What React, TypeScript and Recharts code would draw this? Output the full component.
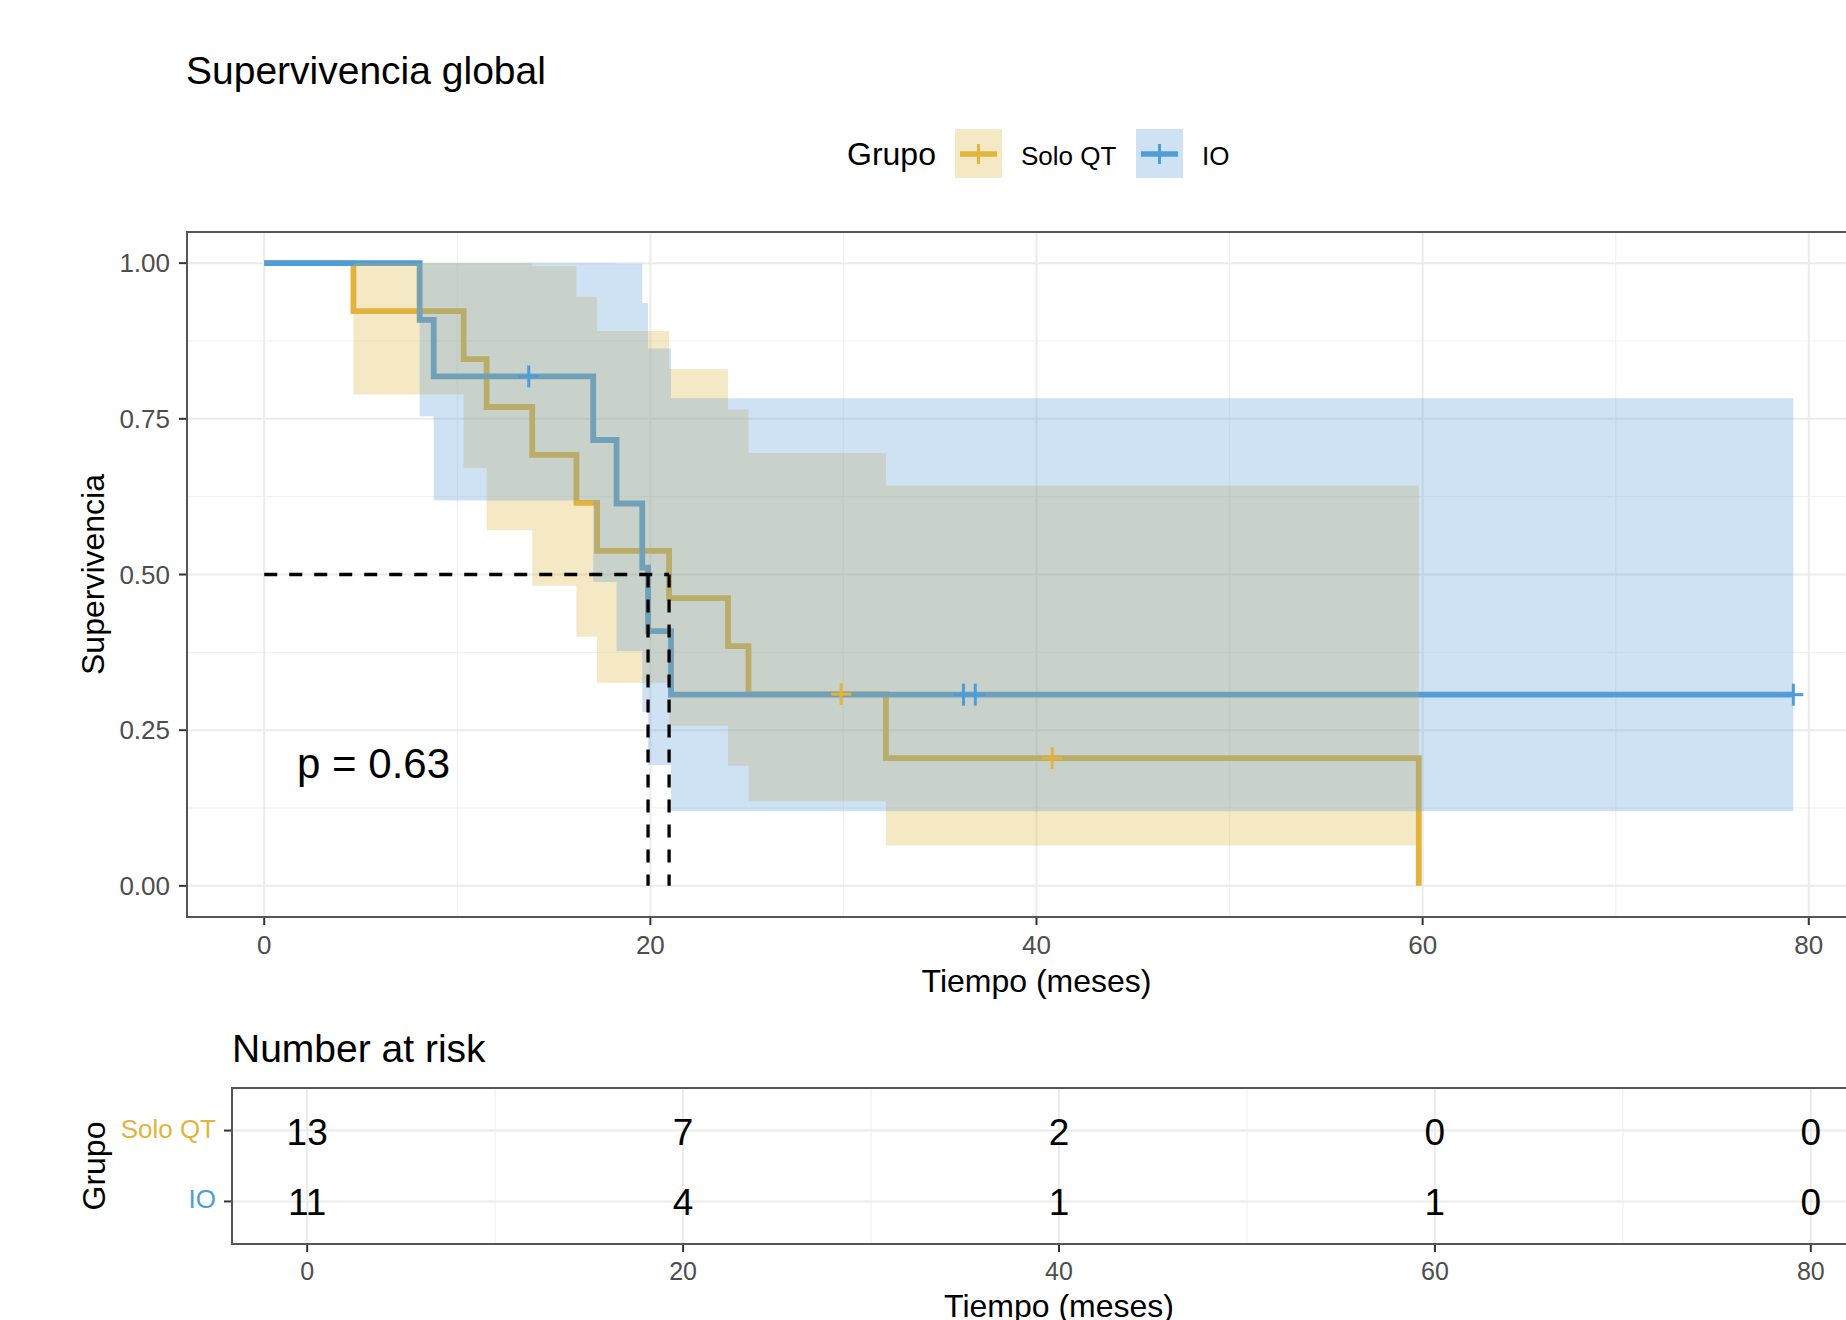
import React from 'react';
import {
  ComposedChart,
  Line,
  Area,
  Scatter,
  XAxis,
  YAxis,
  CartesianGrid,
  ReferenceLine,
  ReferenceArea,
  ReferenceDot,
} from 'recharts';

// Kaplan-Meier steps (time in months, survival)
const soloTimes = [0, 4.62, 10.33, 11.52, 13.88, 16.17, 17.24, 20.97, 24.02, 25.08, 32.2, 59.8];
const soloSurv = [1, 0.923, 0.846, 0.769, 0.692, 0.615, 0.538, 0.462, 0.385, 0.308, 0.205, 0];
const soloLower = [1, 0.789, 0.671, 0.571, 0.482, 0.4, 0.326, 0.257, 0.193, 0.136, 0.065, 0.065];
const soloUpper = [1, 1, 1, 1, 0.995, 0.946, 0.891, 0.83, 0.765, 0.695, 0.643, 0.643];

const ioTimes = [0, 8.05, 8.78, 17.04, 18.25, 19.58, 19.88, 21.07, 79.2];
const ioSurv = [1, 0.909, 0.818, 0.716, 0.614, 0.511, 0.409, 0.307, 0.307];
const ioLower = [1, 0.754, 0.619, 0.488, 0.377, 0.279, 0.194, 0.12, 0.12];
const ioUpper = [1, 1, 1, 1, 0.999, 0.936, 0.863, 0.783, 0.783];

// censored observations
const soloCensorTimes = [29.88, 40.81];
const soloCensorSurv = [0.308, 0.205];
const ioCensorTimes = [13.7, 36.22, 36.83, 79.2];
const ioCensorSurv = [0.818, 0.307, 0.307, 0.307];

// median survival
const ioMedian = 19.88;
const soloMedian = 20.97;

const pValue = 'p = 0.63';

// number at risk table
const riskTimes = [0, 20, 40, 60, 80];
const soloRisk = [13, 7, 2, 0, 0];
const ioRisk = [11, 4, 1, 1, 0];
const groupNames = ['IO', 'Solo QT'];

const timeTicks = [0, 20, 40, 60, 80];
const timeMinorTicks = [10, 30, 50, 70];
const survTicks = [0, 0.25, 0.5, 0.75, 1];
const survMinorTicks = [0.125, 0.375, 0.625, 0.875];

const FONT = '"Liberation Sans", Arial, Helvetica, sans-serif';
const GOLD = '#E2B43B';
const GOLD_FILL = '#DEB23E';
const BLUE = '#4E9CDA';
const BLUE_FILL = '#5F9ED7';
const AXIS_TEXT = '#4D4D4D';
const GRID = '#EBEBEB';
const GRID_MINOR = '#F2F2F2';
const BORDER = '#555555';

const soloLine = soloTimes.map((t, i) => ({ t, s: soloSurv[i] }));
const ioLine = ioTimes.map((t, i) => ({ t, s: ioSurv[i] }));
const soloBand = soloTimes.map((t, i) => ({ t, band: [soloLower[i], soloUpper[i]] }));
const ioBand = ioTimes.map((t, i) => ({ t, band: [ioLower[i], ioUpper[i]] }));
const soloCensors = soloCensorTimes.map((t, i) => ({ t, s: soloCensorSurv[i] }));
const ioCensors = ioCensorTimes.map((t, i) => ({ t, s: ioCensorSurv[i] }));

const riskRows = [
  ...soloRisk.map((n, i) => ({ t: riskTimes[i], row: 2, n })),
  ...ioRisk.map((n, i) => ({ t: riskTimes[i], row: 1, n })),
];

const tickStyle = { fontSize: 26, fill: AXIS_TEXT, fontFamily: FONT };
const tickLineStyle = { stroke: '#333333', strokeWidth: 2 };

function makeCross(color: string) {
  return (p: any) => {
    if (p.cx == null || p.cy == null) return <g />;
    return (
      <g stroke={color} strokeWidth={3}>
        <line x1={p.cx - 10} x2={p.cx + 10} y1={p.cy} y2={p.cy} />
        <line x1={p.cx} x2={p.cx} y1={p.cy - 11} y2={p.cy + 11} />
      </g>
    );
  };
}

function RiskNumber(p: any) {
  if (p.cx == null || p.cy == null) return <g />;
  return (
    <text x={p.cx} y={p.cy + 14} textAnchor="middle" fontSize={37} fontFamily={FONT} fill="#000">
      {p.payload.n}
    </text>
  );
}

function RiskTick(p: any) {
  const name = groupNames[p.payload.value - 1];
  return (
    <text
      x={p.x}
      y={p.y + 7}
      textAnchor="end"
      fontSize={26}
      fontFamily={FONT}
      fill={name === 'IO' ? BLUE : GOLD}
    >
      {name}
    </text>
  );
}

function PText(p: any) {
  if (p.cx == null || p.cy == null) return <g />;
  return (
    <text x={p.cx} y={p.cy} fontSize={42} fontFamily={FONT} fill="#000">
      {pValue}
    </text>
  );
}

function SurvivalPlot() {
  return (
    <ComposedChart width={1900} height={960} margin={{ top: 232, right: 14, bottom: 3, left: 0 }}>
      <XAxis xAxisId="minor" type="number" dataKey="t" domain={[-4, 84]} ticks={timeMinorTicks} hide allowDataOverflow />
      <YAxis yAxisId="minor" type="number" domain={[-0.05, 1.05]} ticks={survMinorTicks} hide allowDataOverflow />
      <CartesianGrid xAxisId="minor" yAxisId="minor" stroke={GRID_MINOR} strokeWidth={1.2} />
      <CartesianGrid stroke={GRID} strokeWidth={2} />
      <XAxis
        type="number"
        dataKey="t"
        domain={[-4, 84]}
        ticks={timeTicks}
        allowDataOverflow
        height={40}
        tickSize={8}
        tickMargin={11}
        tick={tickStyle}
        tickLine={tickLineStyle}
        axisLine={false}
      />
      <YAxis
        type="number"
        domain={[-0.05, 1.05]}
        ticks={survTicks}
        allowDataOverflow
        width={187}
        tickSize={8}
        tickMargin={9}
        tick={tickStyle}
        tickLine={tickLineStyle}
        axisLine={false}
        tickFormatter={(v: number) => v.toFixed(2)}
      />
      <Line data={soloLine} dataKey="s" type="stepAfter" stroke={GOLD} strokeWidth={5.8} dot={false} activeDot={false} isAnimationActive={false} />
      <Line data={ioLine} dataKey="s" type="stepAfter" stroke={BLUE} strokeWidth={5.8} dot={false} activeDot={false} isAnimationActive={false} />
      <Area data={soloBand} dataKey="band" type="stepAfter" stroke="none" fill={GOLD_FILL} fillOpacity={0.3} activeDot={false} isAnimationActive={false} zIndex={450} />
      <Area data={ioBand} dataKey="band" type="stepAfter" stroke="none" fill={BLUE_FILL} fillOpacity={0.3} activeDot={false} isAnimationActive={false} zIndex={450} />
      <Scatter data={soloCensors} dataKey="s" shape={makeCross(GOLD)} isAnimationActive={false} zIndex={600} />
      <Scatter data={ioCensors} dataKey="s" shape={makeCross(BLUE)} isAnimationActive={false} zIndex={600} />
      <ReferenceLine segment={[{ x: 0, y: 0.5 }, { x: soloMedian, y: 0.5 }]} stroke="#000" strokeWidth={3.3} strokeDasharray="13 12" zIndex={700} />
      <ReferenceLine segment={[{ x: ioMedian, y: 0.5 }, { x: ioMedian, y: 0 }]} stroke="#000" strokeWidth={3.3} strokeDasharray="13 12" zIndex={700} />
      <ReferenceLine segment={[{ x: soloMedian, y: 0.5 }, { x: soloMedian, y: 0 }]} stroke="#000" strokeWidth={3.3} strokeDasharray="13 12" zIndex={700} />
      <ReferenceDot x={1.7} y={0.174} r={0} shape={PText} zIndex={700} />
      <ReferenceArea x1={-4} x2={84} y1={-0.05} y2={1.05} fill="none" fillOpacity={0} stroke={BORDER} strokeWidth={2} zIndex={800} />
    </ComposedChart>
  );
}

function RiskTable() {
  return (
    <ComposedChart width={1900} height={320} margin={{ top: 88, right: 14, bottom: 36, left: 0 }}>
      <XAxis xAxisId="minor" type="number" dataKey="t" domain={[-4, 84]} ticks={timeMinorTicks} hide allowDataOverflow />
      <CartesianGrid xAxisId="minor" horizontal={false} stroke={GRID_MINOR} strokeWidth={1.2} />
      <CartesianGrid stroke={GRID} strokeWidth={2} />
      <XAxis
        type="number"
        dataKey="t"
        domain={[-4, 84]}
        ticks={timeTicks}
        allowDataOverflow
        height={40}
        tickSize={8}
        tickMargin={10}
        tick={{ ...tickStyle, fontSize: 25 }}
        tickLine={tickLineStyle}
        axisLine={false}
      />
      <YAxis
        type="number"
        dataKey="row"
        domain={[0.4, 2.6]}
        ticks={[1, 2]}
        allowDataOverflow
        width={232}
        tickSize={8}
        tickMargin={8}
        tick={<RiskTick />}
        tickLine={tickLineStyle}
        axisLine={false}
      />
      <Scatter data={riskRows} dataKey="row" shape={RiskNumber} isAnimationActive={false} />
      <ReferenceArea x1={-4} x2={84} y1={0.4} y2={2.6} fill="none" fillOpacity={0} stroke={BORDER} strokeWidth={2} zIndex={800} />
    </ComposedChart>
  );
}

export default function App() {
  return (
    <div
      style={{
        position: 'absolute',
        left: 0,
        top: 0,
        width: 1846,
        height: 1320,
        overflow: 'hidden',
        background: '#fff',
        fontFamily: FONT,
      }}
    >
      <div style={{ position: 'absolute', left: 0, top: 0 }}>
        <SurvivalPlot />
      </div>
      <div style={{ position: 'absolute', left: 0, top: 1000 }}>
        <RiskTable />
      </div>
      <svg
        width={1846}
        height={1320}
        style={{ position: 'absolute', left: 0, top: 0, pointerEvents: 'none' }}
        fontFamily={FONT}
      >
        <text x={186} y={83.5} fontSize={39} fill="#000">Supervivencia global</text>

        <text x={847} y={165} fontSize={32} fill="#000">Grupo</text>
        <rect x={955} y={129} width={47} height={49} fill={GOLD_FILL} fillOpacity={0.3} />
        <line x1={960} x2={997} y1={154} y2={154} stroke={GOLD} strokeWidth={5.5} />
        <line x1={978.5} x2={978.5} y1={144} y2={164} stroke={GOLD} strokeWidth={3} />
        <text x={1021} y={165} fontSize={26} fill="#000">Solo QT</text>
        <rect x={1136} y={129} width={47} height={49} fill={BLUE_FILL} fillOpacity={0.3} />
        <line x1={1141} x2={1178} y1={154} y2={154} stroke={BLUE} strokeWidth={5.5} />
        <line x1={1159.5} x2={1159.5} y1={144} y2={164} stroke={BLUE} strokeWidth={3} />
        <text x={1202} y={165} fontSize={26} fill="#000">IO</text>

        <text x={1036.5} y={991.5} fontSize={32} textAnchor="middle" fill="#000">Tiempo (meses)</text>
        <text x={104} y={574.5} fontSize={32} textAnchor="middle" fill="#000" transform="rotate(-90 104 574.5)">
          Supervivencia
        </text>

        <text x={232} y={1061.7} fontSize={39} fill="#000">Number at risk</text>
        <text x={105} y={1166} fontSize={32} textAnchor="middle" fill="#000" transform="rotate(-90 105 1166)">
          Grupo
        </text>
        <text x={1059} y={1316.7} fontSize={32} textAnchor="middle" fill="#000">Tiempo (meses)</text>
      </svg>
    </div>
  );
}
